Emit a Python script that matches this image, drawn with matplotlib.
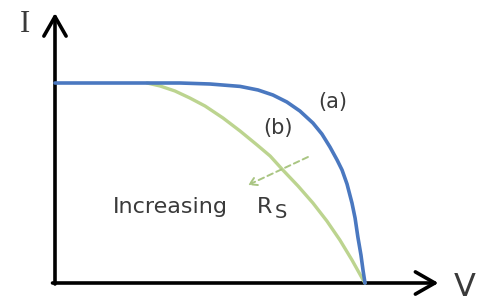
import matplotlib.pyplot as plt

# I-V curves, normalised (V / Voc, I / Isc)
v_a = [0.0, 0.145, 0.274, 0.403, 0.5, 0.597, 0.655, 0.703, 0.748, 0.790, 0.832, 0.861,
       0.887, 0.910, 0.926, 0.942, 0.958, 0.968, 0.977, 0.987, 0.994, 1.0]
i_a = [1.0, 1.0, 1.0, 1.0, 0.995, 0.983, 0.965, 0.94, 0.905, 0.86, 0.80, 0.745,
       0.68, 0.615, 0.565, 0.495, 0.40, 0.325, 0.23, 0.14, 0.06, 0.0]

v_b = [0.297, 0.339, 0.387, 0.435, 0.484, 0.542, 0.597, 0.652, 0.694, 0.735, 0.784,
       0.832, 0.877, 0.919, 0.958, 0.994, 1.0]
i_b = [1.0, 0.985, 0.96, 0.925, 0.885, 0.825, 0.76, 0.69, 0.635, 0.565, 0.485,
       0.40, 0.31, 0.215, 0.115, 0.015, 0.0]

blue = '#4a78c0'
green = '#bcd48f'
txt = '#3a3a3a'

plt.rcParams['font.family'] = ['DejaVu Sans']

fig = plt.figure(figsize=(4.88, 3.07), dpi=100)
ax = fig.add_axes([0, 0, 1, 1])
ax.set_xlim(-0.1774, 1.3968)
ax.set_ylim(-0.12, 1.415)
ax.axis('off')

# axes with open arrow heads
arr = dict(arrowstyle='->,head_length=1.4,head_width=0.8', lw=2.6, color='black',
           shrinkA=0, shrinkB=0)
ax.annotate('', xy=(0, 1.35), xytext=(0, -0.005), arrowprops=arr)
ax.annotate('', xy=(1.237, 0), xytext=(-0.008, 0), arrowprops=arr)

ax.plot(v_b, i_b, color=green, lw=2.4, solid_capstyle='round', solid_joinstyle='round', zorder=3)
ax.plot(v_a, i_a, color=blue, lw=2.6, solid_capstyle='round', solid_joinstyle='round', zorder=4)

# increasing Rs arrow
ax.annotate('', xy=(0.623, 0.49), xytext=(0.816, 0.63),
            arrowprops=dict(arrowstyle='->,head_length=0.5,head_width=0.3', lw=1.4,
                            color='#a9c582', linestyle=(0, (3, 2)), shrinkA=0, shrinkB=0),
            zorder=5)

ax.text(0.897, 0.905, '(a)', fontsize=15, color=txt, ha='center', va='center')
ax.text(0.72, 0.775, '(b)', fontsize=15, color=txt, ha='center', va='center')
ax.text(0.187, 0.38, 'Increasing', fontsize=16, color=txt, ha='left', va='center')
ax.text(0.652, 0.38, 'R', fontsize=16, color=txt, ha='left', va='center')
ax.text(0.71, 0.35, 'S', fontsize=14, color=txt, ha='left', va='center')

ax.text(-0.097, 1.295, 'I', fontsize=22, family='Liberation Serif', color=txt,
        ha='center', va='center')
ax.text(1.323, -0.02, 'V', fontsize=23, color=txt, ha='center', va='center')

fig.savefig('out.png', dpi=100)
